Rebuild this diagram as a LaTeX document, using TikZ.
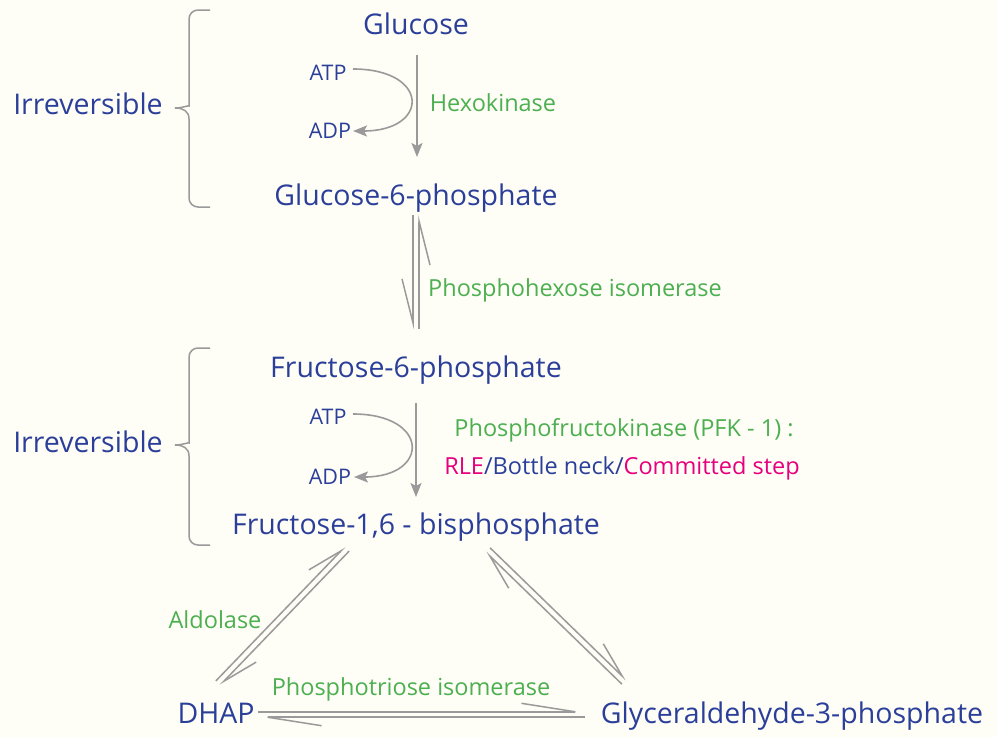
\documentclass[tikz,border=0pt]{standalone}
\usepackage{fontspec}
\setmainfont{Open Sans}
\usetikzlibrary{arrows.meta,calc}
\definecolor{bg}{HTML}{FEFEF6}
\definecolor{ink}{HTML}{2B3F9A}
\definecolor{enz}{HTML}{4CAF50}
\definecolor{mag}{HTML}{E6007E}
\definecolor{ln}{HTML}{9A9A9A}
\begin{document}
\begin{tikzpicture}[x=1pt,y=-1pt,
  main/.style={text=ink, font=\fontsize{28.5}{32}\selectfont, inner sep=0pt, text height=20pt, text depth=6pt},
  enzyme/.style={text=enz, font=\fontsize{23.5}{27}\selectfont, inner sep=0pt},
  small/.style={text=ink, font=\fontsize{21.5}{24}\selectfont, inner sep=0pt},
  arr/.style={draw=ln, line width=1.6pt, -{Stealth[length=14pt,width=11pt,inset=3pt]}},
  harpL/.style={draw=ln, line width=1.5pt, -{Straight Barb[left,length=36pt,width=20pt]}},
  harpH/.style={draw=ln, line width=1.5pt, -{Straight Barb[left,length=54pt,width=17pt]}},
  harpR/.style={draw=ln, line width=1.5pt, -{Straight Barb[right,length=44pt,width=22pt]}},
  brc/.style={draw=ln, line width=1.5pt, rounded corners=9pt}
]
\fill[bg] (0,0) rectangle (997,737);
\useasboundingbox (0,0) rectangle (997,737);

% main compounds
\node[main] (glc) at (416,27) {Glucose};
\node[main] (g6p) at (416,198) {Glucose-6-phosphate};
\node[main] (f6p) at (416,370) {Fructose-6-phosphate};
\node[main] (f16) at (416,527) {Fructose-1,6 - bisphosphate};
\node[main] (dhap) at (216,716) {DHAP};
\node[main] (g3p) at (792,716) {Glyceraldehyde-3-phosphate};
\node[main] (irr1) at (88,107) {Irreversible};
\node[main] (irr2) at (88,445) {Irreversible};

% cofactors
\node[small] (atp1) at (328,73) {ATP};
\node[small] (adp1) at (330,131) {ADP};
\node[small] (atp2) at (328,417) {ATP};
\node[small] (adp2) at (330,477) {ADP};

% enzymes
\node[enzyme] (hk) at (493,103) {Hexokinase};
\node[enzyme] (phi) at (575,290) {Phosphohexose isomerase};
\node[enzyme] (pfk) at (624,430) {Phosphofructokinase (PFK - 1) :};
\node[enzyme] (rle) at (622,468) {\textcolor{mag}{RLE}\textcolor{ink}{/Bottle neck/}\textcolor{mag}{Committed step}};
\node[enzyme] (ald) at (215,620) {Aldolase};
\node[enzyme] (pti) at (411,689) {Phosphotriose isomerase};

% braces
\draw[brc] (210,10) -- (189,10) -- (189,97)
  [sharp corners] .. controls (189,105) and (183,108) .. (175,108)
  .. controls (183,108) and (189,111) .. (189,119)
  [rounded corners=9pt] -- (189,207) -- (210,207);
\draw[brc] (210,348) -- (189,348) -- (189,434)
  [sharp corners] .. controls (189,442) and (183,445) .. (175,445)
  .. controls (183,445) and (189,448) .. (189,456)
  [rounded corners=9pt] -- (189,545) -- (210,545);

% irreversible steps
\draw[arr] ($(glc.center)+(1,28)$) -- ($(g6p.center)+(1,-41)$);
\draw[arr] ($(f6p.center)+(0,33)$) -- ($(f16.center)+(0,-30)$);
\draw[arr] ($(atp1.center)+(25,-4)$) .. controls (430,69) and (430,131) .. ($(adp1.center)+(23,0)$);
\draw[arr] ($(atp2.center)+(25,-3)$) .. controls (430,414) and (430,477) .. ($(adp2.center)+(24,0)$);

% equilibria
\coordinate (va) at ($(g6p.center)+(0,17)$);
\coordinate (vb) at ($(f6p.center)+(0,-41)$);
\draw[harpR] ($(va)+(-3,0)$) -- ($(vb)+(-3,0)$);
\draw[harpR] ($(vb)+(3,0)$) -- ($(va)+(3,0)$);

\coordinate (la) at ($(f16.center)+(-69,22)$);
\coordinate (lb) at ($(dhap.center)+(2,-33)$);
\draw[harpL] ($(la)!3pt!90:(lb)$) -- ($(lb)!3pt!-90:(la)$);
\draw[harpL] ($(lb)!3pt!90:(la)$) -- ($(la)!3pt!-90:(lb)$);

\coordinate (ra) at ($(f16.center)+(72,23)$);
\coordinate (rb) at ($(g3p.center)+(-168,-34)$);
\draw[harpL] ($(ra)!3pt!90:(rb)$) -- ($(rb)!3pt!-90:(ra)$);
\draw[harpL] ($(rb)!3pt!90:(ra)$) -- ($(ra)!3pt!-90:(rb)$);

\coordinate (ha) at ($(dhap.center)+(42,-1.5)$);
\coordinate (hb) at ($(g3p.center)+(-207,-1.5)$);
\draw[harpH] ($(ha)!2.7pt!90:(hb)$) -- ($(hb)!2.7pt!-90:(ha)$);
\draw[harpH] ($(hb)!2.7pt!90:(ha)$) -- ($(ha)!2.7pt!-90:(hb)$);
\end{tikzpicture}
\end{document}
